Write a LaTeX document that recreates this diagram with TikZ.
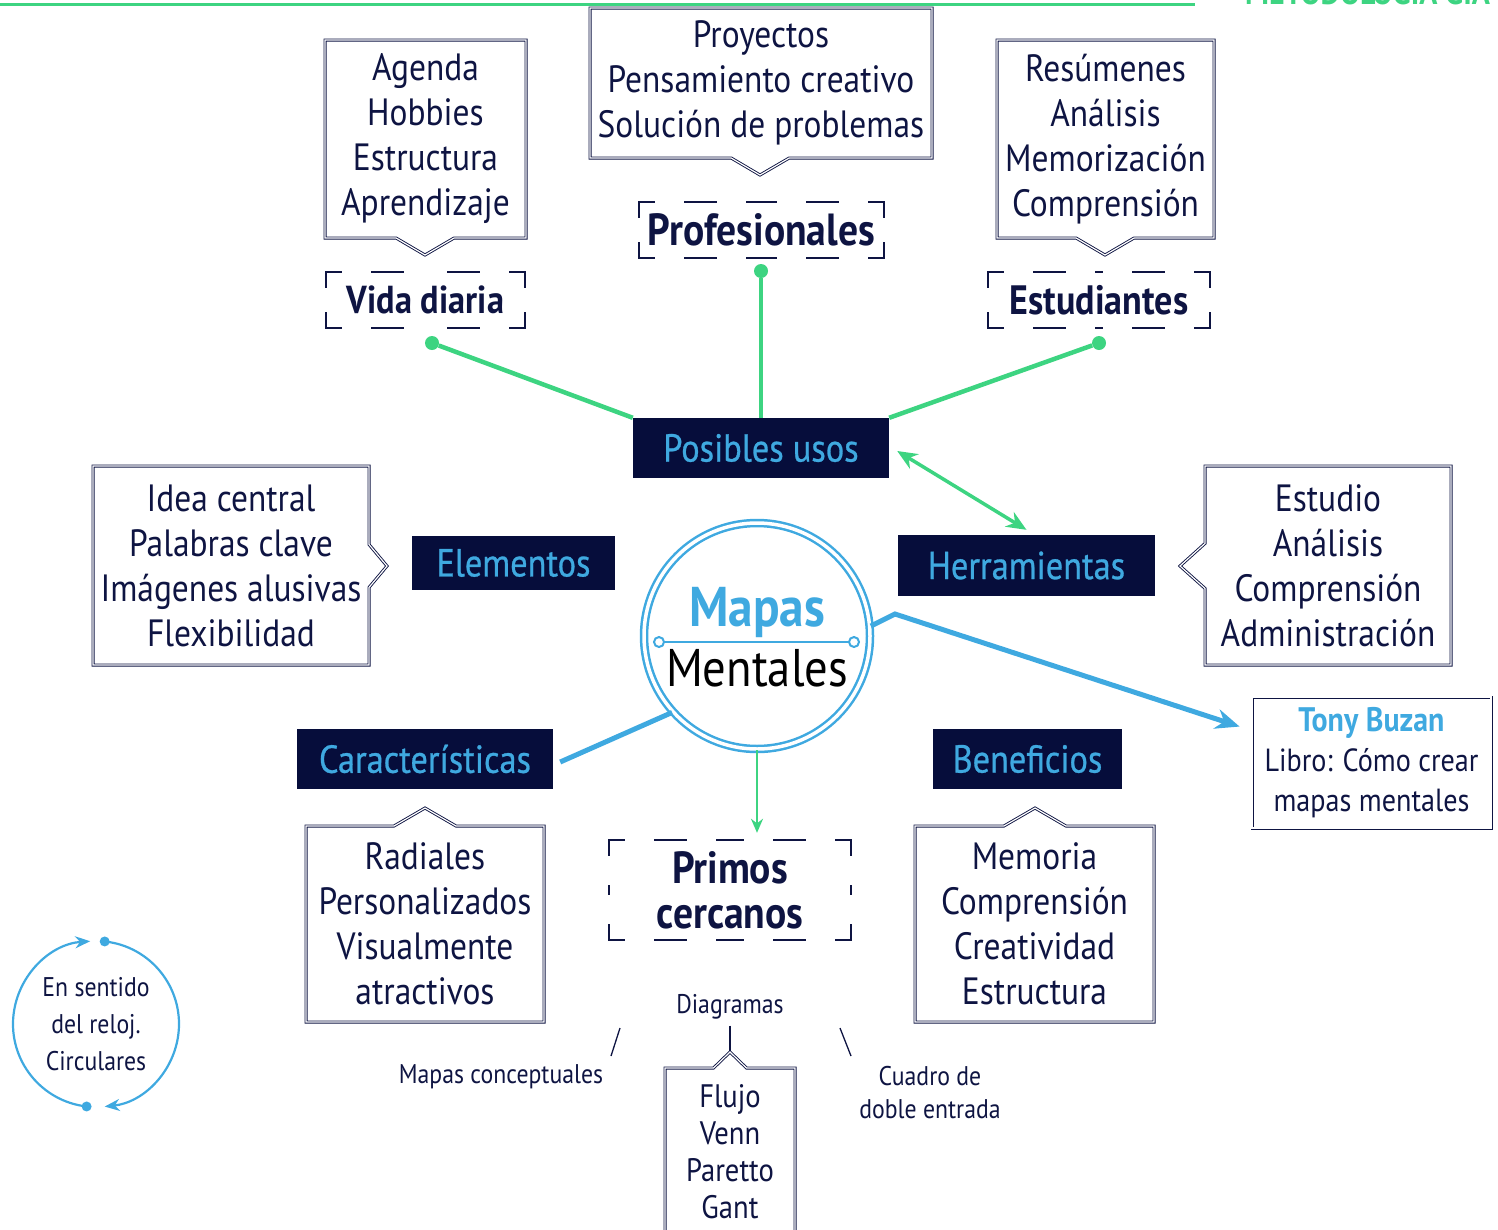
\documentclass[tikz,border=0pt]{standalone}
\usepackage{fontspec}
\setmainfont{PT Sans}[FakeStretch=0.88]
\newfontfamily\medio{PT Sans}[FakeStretch=0.88, FakeBold=0.7]
\usetikzlibrary{positioning,shapes.callouts,arrows.meta}

\definecolor{navy}{HTML}{060D3B}
\definecolor{ink}{HTML}{0E1442}
\definecolor{sky}{HTML}{3FA9E0}
\definecolor{leaf}{HTML}{3DD481}

\tikzset{
  listbox/.style={rectangle callout, draw=ink, double=white, line width=0.9pt,
    double distance=1.2pt, align=center, text=ink, inner sep=0pt,
    font=\fontsize{38}{45}\selectfont, callout pointer width=58pt},
  tonybox/.style={shape=rectangle, draw=ink, double=white, line width=0.9pt,
    double distance=1.2pt, align=center, text=ink, inner sep=0pt},
  darkbox/.style={rectangle, fill=navy, text=sky, inner sep=0pt,
    font=\medio\fontsize{39}{40}\selectfont},
  dashbox/.style={rectangle, text=ink, align=center, inner sep=0pt,
    font=\bfseries\fontsize{39}{45}\selectfont},
  bracketline/.style={ink, line width=2.2pt, line cap=rect,
    dash pattern=on 31pt off 31pt, dash phase=15.5pt},
  greenline/.style={leaf, line width=4.5pt},
  blueline/.style={sky, line width=5pt},
  dot/.style={circle, fill=leaf, inner sep=0pt, minimum size=14pt},
  ring/.style={circle, draw=sky, fill=white, line width=2pt, inner sep=0pt, minimum size=10pt},
  small/.style={text=ink, align=center, inner sep=0pt, font=\fontsize{27}{33}\selectfont},
}

% corners and dashes around a node
\newcommand\bracketbox[1]{%
  \foreach \c/\a/\b in {north west/north/west, north east/north/east,
                        south east/south/east, south west/south/west}
    {\draw[bracketline] (#1.\c) -- (#1.\a) (#1.\c) -- (#1.\b);}
}

\begin{document}
\begin{tikzpicture}[x=1pt, y=-1pt, node distance=56pt, on grid]
\path[use as bounding box, clip] (0,0) rectangle (1498,1229);

% header
\draw[leaf, line width=3pt] (0,4) -- (1195,4);
\node[anchor=base west, text=leaf, inner sep=0pt, font=\bfseries\fontsize{34}{34}\selectfont]
  (cabecera) at (1245,4) {METODOLOGÍA GIA};

% center
\node[circle, draw=sky, double=white, line width=2.5pt, double distance=3.5pt,
      minimum size=226pt, inner sep=0pt] (centro) at (757,636) {};
\node[text=sky, inner sep=0pt, font=\bfseries\fontsize{56}{56}\selectfont] (mapas) at (757,612) {Mapas};
\node[inner sep=0pt, font=\fontsize{53}{53}\selectfont] (mentales) [below=of mapas] {Mentales};
\node[ring] (ri) at (659,642) {};
\node[ring] (rd) at (854,642) {};
\draw[sky, line width=2.5pt] (ri) -- (rd);

% dark labels
\node[darkbox, minimum width=256pt, minimum height=60pt] (posibles) at (761,448) {Posibles usos};
\node[darkbox, minimum width=203pt, minimum height=54pt] (elementos) at (513.5,563) {Elementos};
\node[darkbox, minimum width=257pt, minimum height=61pt] (herramientas) at (1026.5,565.5) {Herramientas};
\node[darkbox, minimum width=256pt, minimum height=60pt] (caracteristicas) at (425,759) {Características};
\node[darkbox, minimum width=189pt, minimum height=60pt] (beneficios) at (1027.5,759) {Beneficios};

% dashed labels
\node[dashbox, minimum width=199pt, minimum height=56pt] (vida) at (425.5,300) {Vida diaria};
\node[dashbox, minimum width=245pt, minimum height=56pt, font=\bfseries\fontsize{45}{45}\selectfont]
  (profesionales) at (761.5,230) {Profesionales};
\node[dashbox, minimum width=222pt, minimum height=56pt, font=\bfseries\fontsize{41}{45}\selectfont]
  (estudiantes) at (1099,300) {Estudiantes};
\node[dashbox, minimum width=242pt, minimum height=100pt, font=\bfseries\fontsize{45}{45}\selectfont]
  (primos) at (730,890) {Primos\\cercanos};
\bracketbox{vida}
\bracketbox{profesionales}
\bracketbox{estudiantes}
\bracketbox{primos}

% lists
\node[listbox, minimum width=201pt, minimum height=198pt, callout absolute pointer={(425,255)}]
  (agenda) at (425.5,139) {Agenda\\Hobbies\\Estructura\\Aprendizaje};
\node[listbox, minimum width=342pt, minimum height=150pt, callout absolute pointer={(760,175)}]
  (proyectos) at (761,83) {Proyectos\\Pensamiento creativo\\Solución de problemas};
\node[listbox, minimum width=217pt, minimum height=198pt, callout absolute pointer={(1105,255)}]
  (resumenes) at (1105.5,139) {Resúmenes\\Análisis\\Memorización\\Comprensión};
\node[listbox, minimum width=276pt, minimum height=199pt, callout pointer width=43pt,
      callout absolute pointer={(387,566)}]
  (idea) at (231,565.5) {Idea central\\Palabras clave\\Imágenes alusivas\\Flexibilidad};
\node[listbox, minimum width=246pt, minimum height=199pt, callout pointer width=45pt,
      callout absolute pointer={(1180,566)}]
  (estudio) at (1328,565.5) {Estudio\\Análisis\\Comprensión\\Administración};
\node[listbox, minimum width=238pt, minimum height=196pt, callout pointer width=62pt,
      callout absolute pointer={(425,808)}]
  (radiales) at (425,924) {Radiales\\Personalizados\\Visualmente\\atractivos};
\node[listbox, minimum width=239pt, minimum height=196pt, callout pointer width=62pt,
      callout absolute pointer={(1035,808)}]
  (memoria) at (1034.5,924) {Memoria\\Comprensión\\Creatividad\\Estructura};
\node[listbox, minimum width=130pt, minimum height=167pt, callout pointer width=33pt,
      callout absolute pointer={(730,1052)}, font=\fontsize{32.5}{37}\selectfont]
  (flujo) at (730,1151.5) {Flujo\\Venn\\Paretto\\Gant};
\node[tonybox, minimum width=239pt, minimum height=131pt, font=\fontsize{32}{40}\selectfont]
  (tony) at (1371.5,762.5) {{\color{sky}\bfseries\fontsize{34}{40}\selectfont Tony Buzan}\\Libro: Cómo crear\\mapas mentales};

% green links to the uses
\node[dot] (dotv) at (432,343) {};
\node[dot] (dotp) at (761,271) {};
\node[dot] (dote) at (1099,343) {};
\draw[greenline] (posibles.north west) -- (dotv);
\draw[greenline] (posibles.north) -- (dotp);
\draw[greenline] (posibles.north east) -- (dote);
\draw[leaf, line width=3.5pt, {Stealth[length=20pt,width=17pt]}-{Stealth[length=20pt,width=17pt]}]
  ([xshift=8pt,yshift=-3pt]posibles.east) -- ([yshift=5pt]herramientas.north);
\draw[leaf, line width=2.5pt, -{Stealth[length=14pt,width=12pt]}, shorten >=7pt]
  (centro.south) -- (centro.south |- primos.north);

% blue links
\coordinate (quiebre) at (895,614);
\draw[blueline] (centro.222) -- ([xshift=7pt,yshift=-3pt]caracteristicas.east);
\draw[blueline, -{Stealth[length=24pt,width=20pt]}]
  (centro.5) -- (quiebre) -- ([xshift=-12pt,yshift=-30pt]tony.north west);

% diagrams
\node[small] (diag) at (730,1007) {Diagramas};
\node[small] (mapconc) at (501,1077) {Mapas conceptuales};
\node[small] (cuadro) at (930,1093) {Cuadro de\\doble entrada};
\coordinate (l1) at (620,1028);
\coordinate (l2) at (611,1056);
\coordinate (r1) at (840,1028);
\coordinate (r2) at (851,1056);
\draw[ink, line width=1.3pt] (l1) -- (l2);
\draw[ink, line width=1.3pt] (r1) -- (r2);
\draw[ink, line width=1.3pt, shorten <=6pt] (diag.south) -- (flujo.pointer);

% clockwise loop
\node[small, font=\fontsize{27}{37}\selectfont] (ciclo) at (96,1024) {En sentido\\del reloj.\\Circulares};
\draw[sky, line width=2.2pt, -{Stealth[length=15pt,width=12pt]}]
  (ciclo.center) ++(-84:83) arc[start angle=-84, end angle=84, radius=83];
\draw[sky, line width=2.2pt, -{Stealth[length=15pt,width=12pt]}]
  (ciclo.center) ++(96.5:83) arc[start angle=96.5, end angle=266, radius=83];
\fill[sky] (ciclo.center) ++(-84:83) circle (5pt);
\fill[sky] (ciclo.center) ++(96.5:83) circle (5pt);
\end{tikzpicture}
\end{document}
